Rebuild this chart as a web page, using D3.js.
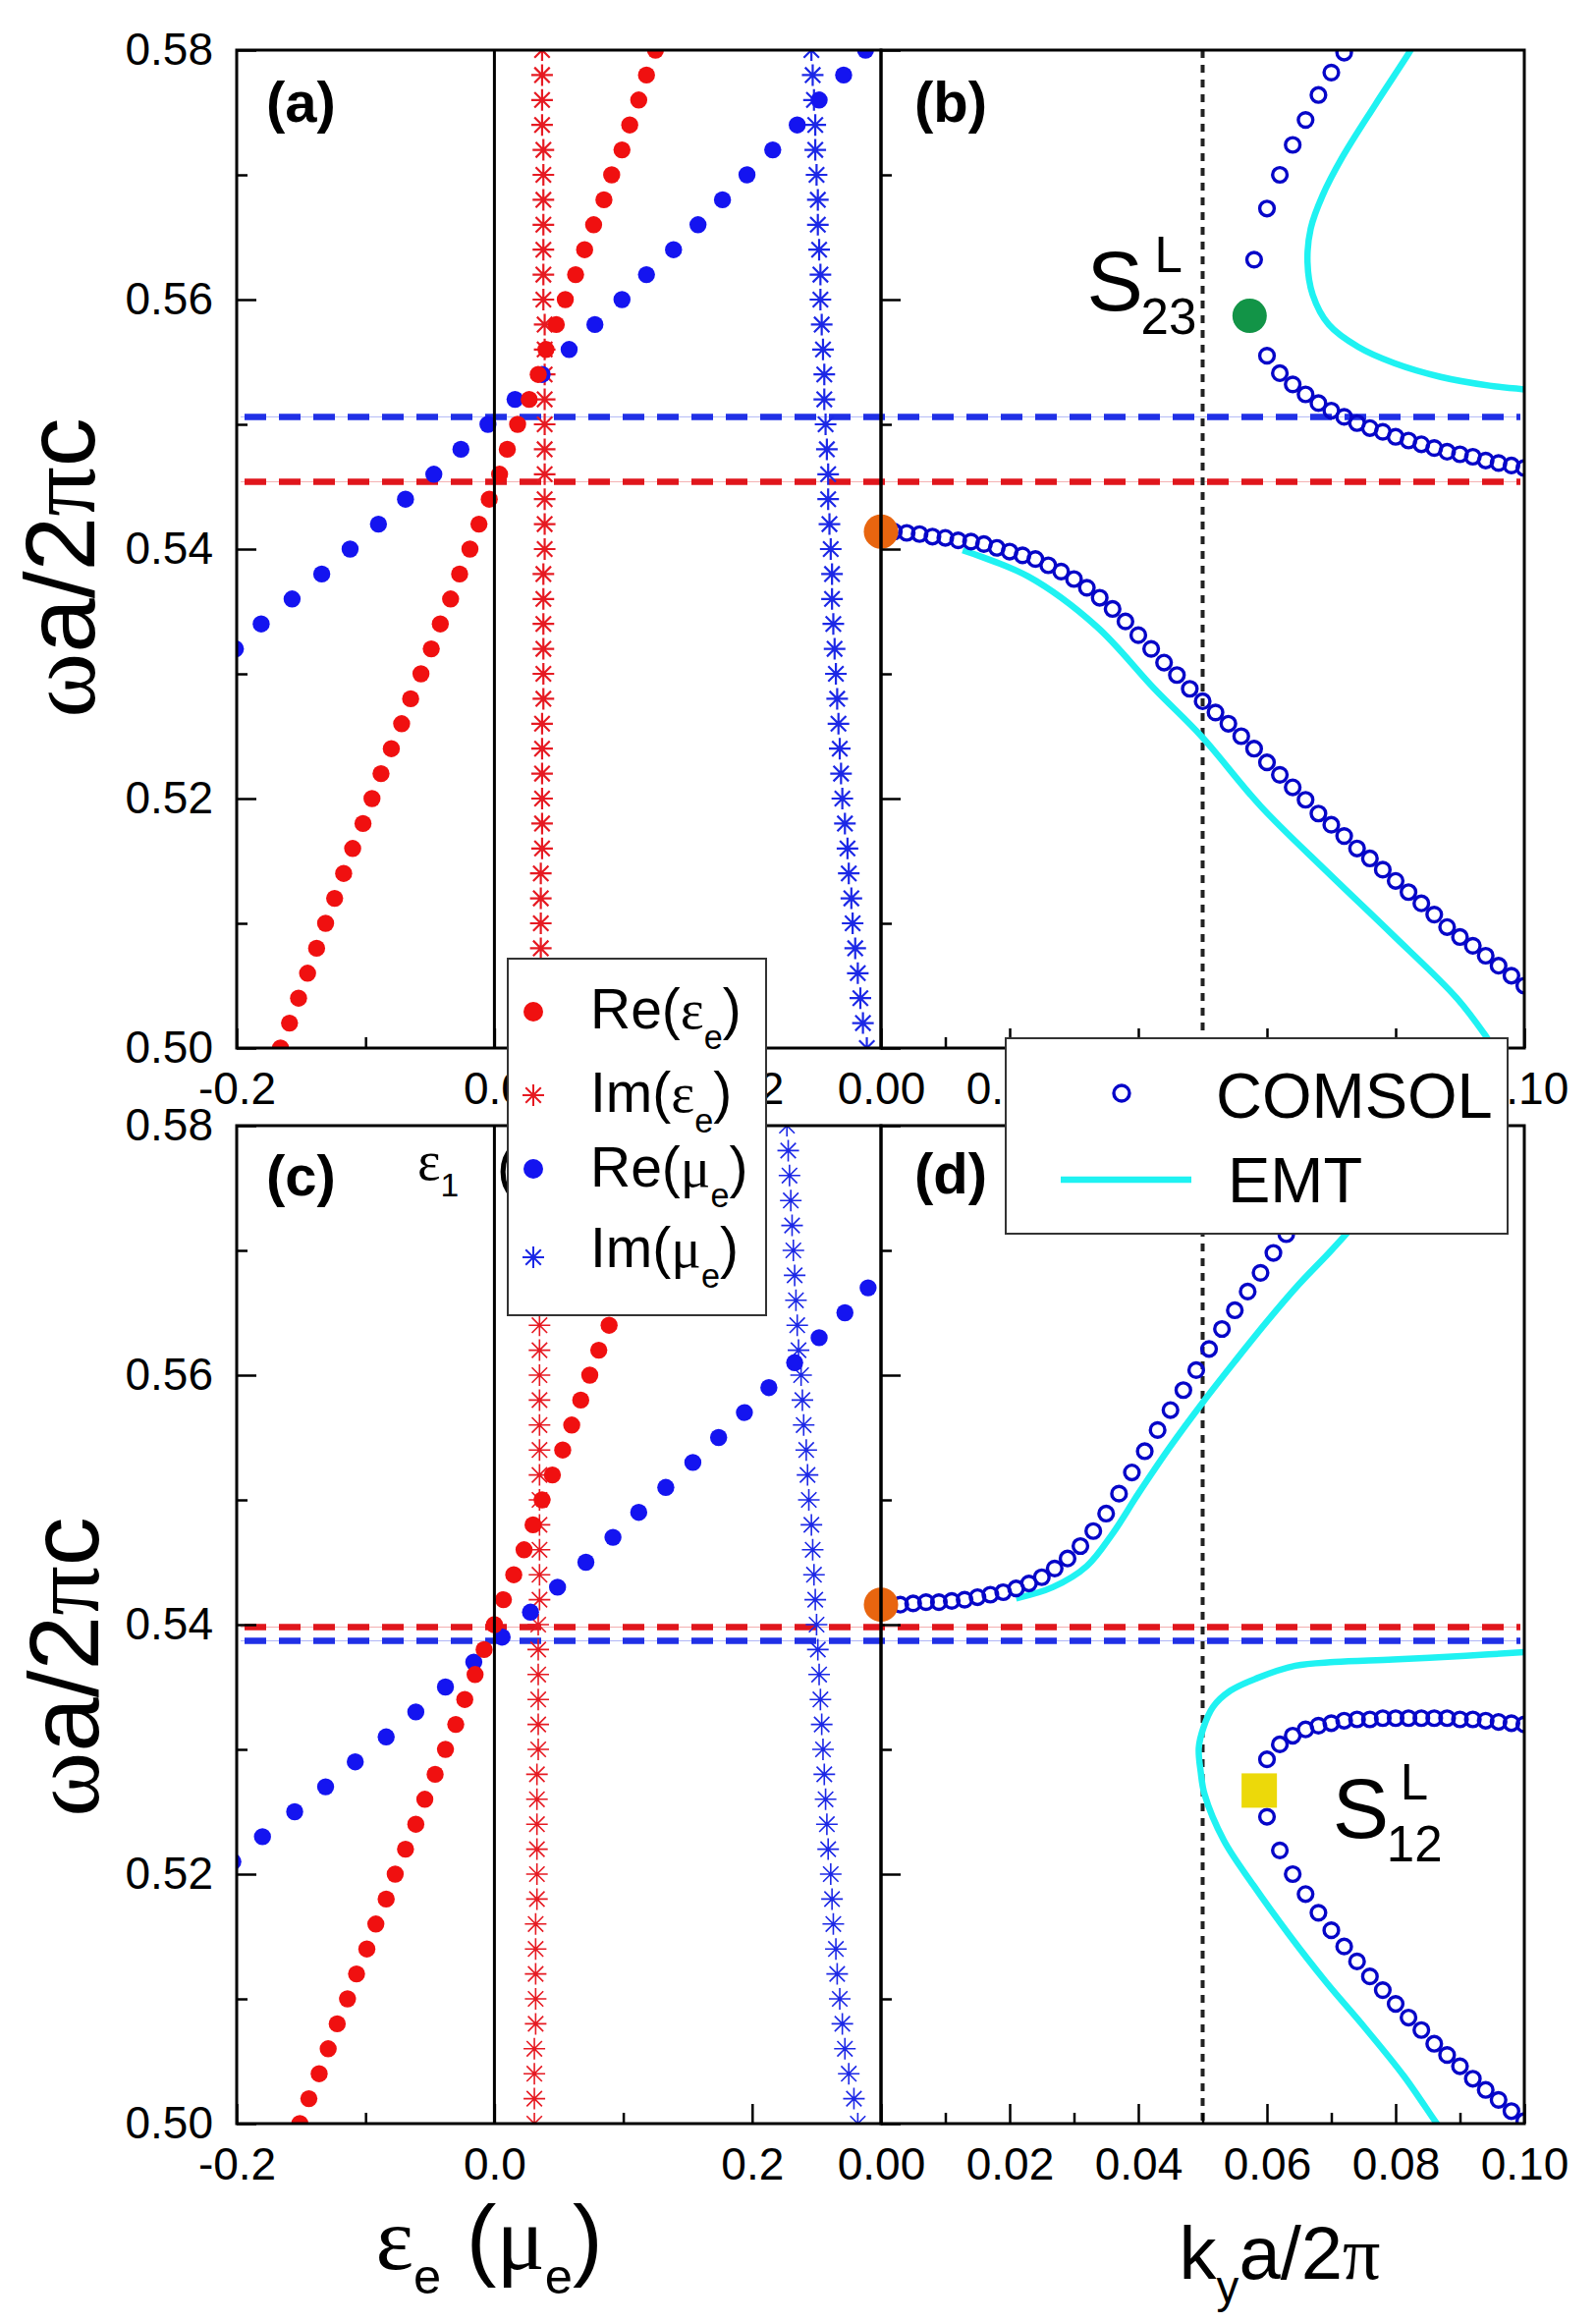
<!DOCTYPE html>
<html lang="en">
<head>
<meta charset="UTF-8" />
<title>Effective parameters and band structure</title>
<script src="https://cdnjs.cloudflare.com/ajax/libs/d3/7.8.5/d3.min.js"></script>
<style>
  body { margin: 0; background: #fff; }
  text { font-family: "Liberation Sans", Arial, sans-serif; fill: #000; }
  .greek { font-family: "Liberation Serif", "Times New Roman", serif; }
  .axis .domain { display: none; }
  .axis line { stroke: #000; stroke-width: 2.5; }
  .axis text { font-size: 46px; font-family: "Liberation Sans", Arial, sans-serif; }
</style>
</head>
<body>
<div id="chart"></div>
<script>
// ---- data ----
// frequency grid used by the effective-parameter curves (wa/2pic)
const omegaGrid = [0.500,0.502,0.504,0.506,0.508,0.510,0.512,0.514,0.516,0.518,0.520,0.522,0.524,0.526,0.528,0.530,0.532,0.534,0.536,0.538,0.540,0.542,0.544,0.546,0.548,0.550,0.552,0.554,0.556,0.558,0.560,0.562,0.564,0.566,0.568,0.570,0.572,0.574,0.576,0.578,0.580];

// panel (a)
const reEpsA = [-0.166,-0.159,-0.152,-0.145,-0.138,-0.131,-0.124,-0.117,-0.110,-0.102,-0.095,-0.088,-0.080,-0.072,-0.065,-0.057,-0.049,-0.042,-0.034,-0.027,-0.019,-0.012,-0.004,0.004,0.010,0.018,0.027,0.034,0.040,0.048,0.055,0.063,0.070,0.077,0.085,0.091,0.099,0.105,0.112,0.118,0.125];
const imEpsA = [0.035,0.035,0.035,0.036,0.036,0.036,0.036,0.036,0.037,0.037,0.037,0.037,0.037,0.037,0.038,0.038,0.038,0.038,0.038,0.038,0.039,0.039,0.039,0.039,0.039,0.039,0.039,0.039,0.039,0.039,0.038,0.038,0.038,0.038,0.038,0.038,0.038,0.037,0.037,0.037,0.037];
const imMuA = [0.289,0.286,0.284,0.282,0.280,0.278,0.277,0.275,0.274,0.272,0.270,0.269,0.268,0.267,0.266,0.265,0.264,0.263,0.262,0.262,0.261,0.260,0.259,0.259,0.258,0.257,0.256,0.256,0.255,0.254,0.253,0.253,0.252,0.251,0.251,0.250,0.249,0.249,0.248,0.247,0.246];
const omegaReMuA = [0.532,0.534,0.536,0.538,0.540,0.542,0.544,0.546,0.548,0.550,0.552,0.554,0.556,0.558,0.560,0.562,0.564,0.566,0.568,0.570,0.572,0.574,0.576,0.578,0.580];
const reMuA = [-0.201,-0.181,-0.157,-0.134,-0.112,-0.090,-0.069,-0.047,-0.026,-0.005,0.016,0.037,0.058,0.078,0.099,0.118,0.139,0.158,0.177,0.196,0.216,0.235,0.252,0.271,0.288];

// panel (c)
const reEpsC = [-0.151,-0.144,-0.136,-0.129,-0.122,-0.114,-0.107,-0.099,-0.092,-0.084,-0.077,-0.069,-0.061,-0.054,-0.046,-0.038,-0.030,-0.023,-0.015,-0.008,0.000,0.007,0.015,0.023,0.030,0.037,0.045,0.053,0.060,0.067,0.074,0.081,0.089,0.096,0.103,0.110,0.117,0.124,0.131,0.138,0.145];
const imEpsC = [0.031,0.031,0.031,0.031,0.032,0.032,0.032,0.032,0.032,0.033,0.033,0.033,0.033,0.033,0.033,0.034,0.034,0.034,0.034,0.034,0.034,0.035,0.035,0.035,0.035,0.035,0.035,0.035,0.035,0.035,0.035,0.035,0.035,0.035,0.035,0.035,0.035,0.035,0.035,0.035,0.035];
const imMuC = [0.282,0.279,0.275,0.272,0.270,0.268,0.266,0.265,0.263,0.262,0.261,0.259,0.258,0.257,0.256,0.255,0.254,0.253,0.252,0.251,0.250,0.249,0.248,0.247,0.246,0.244,0.243,0.242,0.240,0.239,0.238,0.236,0.235,0.234,0.233,0.232,0.231,0.230,0.229,0.228,0.227];
const omegaReMuC = [0.521,0.523,0.525,0.527,0.529,0.531,0.533,0.535,0.537,0.539,0.541,0.543,0.545,0.547,0.549,0.551,0.553,0.555,0.557,0.559,0.561,0.563,0.565,0.567];
const reMuC = [-0.203,-0.180,-0.155,-0.131,-0.108,-0.084,-0.061,-0.038,-0.016,0.006,0.028,0.049,0.071,0.092,0.112,0.133,0.154,0.174,0.194,0.213,0.233,0.252,0.272,0.290];

// panel (b): COMSOL bands (kya/2pi, wa/2pic)
const kLowB = [0.002,0.004,0.006,0.008,0.010,0.012,0.014,0.016,0.018,0.020,0.022,0.024,0.026,0.028,0.030,0.032,0.034,0.036,0.038,0.040,0.042,0.044,0.046,0.048,0.050,0.052,0.054,0.056,0.058,0.060,0.062,0.064,0.066,0.068,0.070,0.072,0.074,0.076,0.078,0.080,0.082,0.084,0.086,0.088,0.090,0.092,0.094,0.096,0.098,0.100];
const wLowB = [0.5414,0.5413,0.5412,0.5410,0.5409,0.5407,0.5406,0.5404,0.5401,0.5398,0.5395,0.5392,0.5387,0.5382,0.5376,0.5369,0.5361,0.5352,0.5342,0.5331,0.5320,0.5309,0.5299,0.5288,0.5278,0.5269,0.5260,0.5250,0.5240,0.5229,0.5219,0.5209,0.5199,0.5188,0.5179,0.5170,0.5160,0.5152,0.5143,0.5134,0.5125,0.5116,0.5107,0.5097,0.5089,0.5082,0.5074,0.5066,0.5058,0.5050];
const kUpB = [0.074,0.072,0.070,0.068,0.066,0.064,0.062,0.060,0.058,0.060,0.062,0.064,0.066,0.068,0.070,0.072,0.074,0.076,0.078,0.080,0.082,0.084,0.086,0.088,0.090,0.092,0.094,0.096,0.098,0.100];
const wUpB = [0.5812,0.5798,0.5782,0.5764,0.5744,0.5724,0.5700,0.5673,0.5632,0.5555,0.5541,0.5532,0.5524,0.5517,0.5511,0.5506,0.5501,0.5497,0.5494,0.5490,0.5487,0.5484,0.5481,0.5478,0.5476,0.5474,0.5471,0.5469,0.5467,0.5465];
// panel (b): EMT curves
const kEmtLowB = [0.0127,0.0229,0.0335,0.0425,0.0498,0.0590,0.0692,0.0793,0.0895,0.0941,0.0955];
const wEmtLowB = [0.5399,0.5378,0.5338,0.5288,0.5250,0.5194,0.5142,0.5092,0.5040,0.5009,0.4998];
const kEmtUpB = [0.0830,0.0821,0.0768,0.0717,0.0686,0.0668,0.0663,0.0671,0.0696,0.0742,0.0798,0.0870,0.0946,0.1000];
const wEmtUpB = [0.5806,0.5798,0.5756,0.5714,0.5683,0.5657,0.5630,0.5604,0.5580,0.5562,0.5549,0.5538,0.5531,0.5528];

// panel (d): COMSOL bands
const kUpD = [0.003,0.005,0.007,0.009,0.011,0.013,0.015,0.017,0.019,0.021,0.023,0.025,0.027,0.029,0.031,0.033,0.035,0.037,0.039,0.041,0.043,0.045,0.047,0.049,0.051,0.053,0.055,0.057,0.059,0.061,0.063,0.065,0.067,0.069,0.071,0.073,0.075];
const wUpD = [0.5416,0.5417,0.5418,0.5418,0.5419,0.5420,0.5422,0.5424,0.5426,0.5429,0.5433,0.5438,0.5445,0.5453,0.5463,0.5475,0.5489,0.5505,0.5522,0.5539,0.5556,0.5572,0.5588,0.5604,0.5621,0.5637,0.5652,0.5667,0.5682,0.5698,0.5713,0.5728,0.5743,0.5758,0.5773,0.5788,0.5803];
const kLoopD = [0.100,0.098,0.096,0.094,0.092,0.090,0.088,0.086,0.084,0.082,0.080,0.078,0.076,0.074,0.072,0.070,0.068,0.066,0.064,0.062,0.060,0.060,0.062,0.064,0.066,0.068,0.070,0.072,0.074,0.076,0.078,0.080,0.082,0.084,0.086,0.088,0.090,0.092,0.094,0.096,0.098,0.100];
const wLoopD = [0.5320,0.5321,0.5322,0.5323,0.5324,0.5324,0.5325,0.5325,0.5325,0.5325,0.5325,0.5325,0.5324,0.5324,0.5323,0.5321,0.5319,0.5316,0.5311,0.5304,0.5292,0.5246,0.5219,0.5200,0.5184,0.5169,0.5155,0.5142,0.5130,0.5118,0.5107,0.5096,0.5085,0.5075,0.5064,0.5055,0.5046,0.5036,0.5027,0.5019,0.5010,0.5002];
// panel (d): EMT curves
const kEmtUpD = [0.0210,0.0267,0.0320,0.0360,0.0400,0.0450,0.0500,0.0550,0.0600,0.0650,0.0700,0.0760,0.0820,0.0870];
const wEmtUpD = [0.5421,0.5430,0.5447,0.5473,0.5505,0.5543,0.5578,0.5611,0.5643,0.5673,0.5700,0.5735,0.5772,0.5805];
const kEmtLoopD = [0.1000,0.0909,0.0796,0.0705,0.0644,0.0584,0.0543,0.0516,0.0501,0.0494,0.0497,0.0503,0.0533,0.0579,0.0635,0.0691,0.0752,0.0813,0.0864,0.0870];
const wEmtLoopD = [0.5378,0.5375,0.5372,0.5370,0.5367,0.5357,0.5347,0.5334,0.5317,0.5301,0.5282,0.5264,0.5227,0.5191,0.5151,0.5114,0.5077,0.5038,0.5000,0.4996];

// highlighted states [k, w]
const gammaB = [0, 0.5414], s23Point = [0.0573, 0.5587];
const gammaD = [0, 0.5416], s12Point = [0.0588, 0.5267];

// horizontal reference frequencies (red: eps = 0, blue: mu = 0)
const refLinesTop = { red: 0.5454, blue: 0.5506 };
const refLinesBottom = { red: 0.5398, blue: 0.5387 };
const kDotted = 0.05;

// ticks
const yMajorTicks = [0.50, 0.52, 0.54, 0.56, 0.58];
const yMinorTicks = [0.51, 0.53, 0.55, 0.57];
const epsMajorTicks = [-0.2, 0.0, 0.2];
const epsMinorTicks = [-0.1, 0.1];
const kMajorTicks = [0.00, 0.02, 0.04, 0.06, 0.08, 0.10];
const kMinorTicks = [0.01, 0.03, 0.05, 0.07, 0.09];

// colours
const cRed = "#f01010", cBlue = "#1414f0", cRedStar = "#e61a22", cBlueStar = "#1c28e6";
const cCircle = "#0606c8", cCyan = "#1ff2f2";

// ---- layout ----
const width = 1625, height = 2365;
const left = 241, mid = 897, right = 1552;
const panelTop = [51, 1146], panelBot = [1067, 2162];

const svg = d3.select("#chart").append("svg")
  .attr("width", width).attr("height", height);
svg.append("rect").attr("width", width).attr("height", height).attr("fill", "#fff");

const xEps = d3.scaleLinear().domain([-0.2, 0.3]).range([left, mid]);
const xK = d3.scaleLinear().domain([0, 0.1]).range([mid, right]);
const yS = [0, 1].map(i => d3.scaleLinear().domain([0.5, 0.58]).range([panelBot[i], panelTop[i]]));

// clip paths for the four panels
const defs = svg.append("defs");
[["clipA", left, 0], ["clipB", mid, 0], ["clipC", left, 1], ["clipD", mid, 1]].forEach(([id, x0, r]) => {
  defs.append("clipPath").attr("id", id).append("rect")
    .attr("x", x0).attr("y", panelTop[r])
    .attr("width", x0 === left ? mid - left : right - mid)
    .attr("height", panelBot[r] - panelTop[r]);
});

const starPath = s => {
  const d = s * 0.7071;
  return `M${-s},0H${s}M0,${-s}V${s}M${-d},${-d}L${d},${d}M${-d},${d}L${d},${-d}`;
};

function rich(text, parts, size, subRatio = 0.6, subShift = 0.3) {
  let shift = 0;
  parts.forEach(p => {
    const ts = text.append("tspan").text(p.t);
    const target = p.sub ? size * subShift : 0;
    if (target !== shift) { ts.attr("dy", target - shift); shift = target; }
    if (p.sub) ts.attr("font-size", size * subRatio);
    if (p.g) ts.attr("class", "greek");
  });
  return text;
}

function drawDots(g, xs, ys, xsc, ysc, color, r) {
  g.selectAll(null).data(d3.zip(xs, ys)).enter().append("circle")
    .attr("cx", d => xsc(d[0])).attr("cy", d => ysc(d[1]))
    .attr("r", r).attr("fill", color);
}
function drawStars(g, xs, ys, xsc, ysc, color, s, sw) {
  g.selectAll(null).data(d3.zip(xs, ys)).enter().append("path")
    .attr("transform", d => `translate(${xsc(d[0])},${ysc(d[1])})`)
    .attr("d", starPath(s)).attr("fill", "none")
    .attr("stroke", color).attr("stroke-width", sw);
}
function drawOpen(g, xs, ys, ysc) {
  g.selectAll(null).data(d3.zip(xs, ys)).enter().append("circle")
    .attr("cx", d => xK(d[0])).attr("cy", d => ysc(d[1]))
    .attr("r", 7.4).attr("fill", "none")
    .attr("stroke", cCircle).attr("stroke-width", 3.4);
}
function drawEmt(g, xs, ys, ysc) {
  const line = d3.line().x(d => xK(d[0])).y(d => ysc(d[1])).curve(d3.curveCatmullRom.alpha(0.5));
  g.append("path").datum(d3.zip(xs, ys)).attr("d", line)
    .attr("fill", "none").attr("stroke", cCyan).attr("stroke-width", 6.5);
}
function refLine(y, color) {
  svg.append("line").attr("x1", left + 4).attr("x2", right - 4).attr("y1", y).attr("y2", y)
    .attr("stroke", color).attr("stroke-width", 1).attr("opacity", 0.35);
  svg.append("line").attr("x1", left + 8).attr("x2", right - 4).attr("y1", y).attr("y2", y)
    .attr("stroke", color).attr("stroke-width", 6.5).attr("stroke-dasharray", "22,13");
}

// ---- reference lines (under the data) ----
refLine(yS[0](refLinesTop.blue), "#2030e6");
refLine(yS[0](refLinesTop.red), "#e0161c");
refLine(yS[1](refLinesBottom.red), "#e0161c");
refLine(yS[1](refLinesBottom.blue), "#2030e6");

// ---- panel (a) ----
const gA = svg.append("g").attr("clip-path", "url(#clipA)");
drawStars(gA, imEpsA, omegaGrid, xEps, yS[0], cRedStar, 11, 2.2);
drawStars(gA, imMuA, omegaGrid, xEps, yS[0], cBlueStar, 11, 2.2);
drawDots(gA, reMuA, omegaReMuA, xEps, yS[0], cBlue, 8.7);
drawDots(gA, reEpsA, omegaGrid, xEps, yS[0], cRed, 8.7);

// ---- panel (c) ----
const gC = svg.append("g").attr("clip-path", "url(#clipC)");
drawStars(gC, imEpsC, omegaGrid, xEps, yS[1], cRedStar, 11, 1.6);
drawStars(gC, imMuC, omegaGrid, xEps, yS[1], cBlueStar, 11, 1.6);
drawDots(gC, reMuC, omegaReMuC, xEps, yS[1], cBlue, 8.7);
drawDots(gC, reEpsC, omegaGrid, xEps, yS[1], cRed, 8.7);

// zero lines
[0, 1].forEach(i => {
  svg.append("line").attr("x1", xEps(0)).attr("x2", xEps(0))
    .attr("y1", panelTop[i]).attr("y2", panelBot[i])
    .attr("stroke", "#000").attr("stroke-width", 3);
});

// dotted k = 0.05 lines
[0, 1].forEach(i => {
  svg.append("line").attr("x1", xK(kDotted)).attr("x2", xK(kDotted))
    .attr("y1", panelTop[i]).attr("y2", panelBot[i])
    .attr("stroke", "#222").attr("stroke-width", 4).attr("stroke-dasharray", "8,7");
});

// ---- panel (b) ----
const gB = svg.append("g").attr("clip-path", "url(#clipB)");
drawEmt(gB, kEmtLowB, wEmtLowB, yS[0]);
drawEmt(gB, kEmtUpB, wEmtUpB, yS[0]);
drawOpen(gB, kLowB, wLowB, yS[0]);
drawOpen(gB, kUpB, wUpB, yS[0]);

// ---- panel (d) ----
const gD = svg.append("g").attr("clip-path", "url(#clipD)");
drawEmt(gD, kEmtUpD, wEmtUpD, yS[1]);
drawEmt(gD, kEmtLoopD, wEmtLoopD, yS[1]);
drawOpen(gD, kUpD, wUpD, yS[1]);
drawOpen(gD, kLoopD, wLoopD, yS[1]);

// highlighted states
svg.append("circle").attr("cx", xK(gammaB[0])).attr("cy", yS[0](gammaB[1])).attr("r", 17.5).attr("fill", "#e8650f");
svg.append("circle").attr("cx", xK(s23Point[0])).attr("cy", yS[0](s23Point[1])).attr("r", 17.5).attr("fill", "#129447");
svg.append("circle").attr("cx", xK(gammaD[0])).attr("cy", yS[1](gammaD[1])).attr("r", 17.5).attr("fill", "#e8650f");
svg.append("rect").attr("x", xK(s12Point[0]) - 18).attr("y", yS[1](s12Point[1]) - 17.5)
  .attr("width", 36).attr("height", 35).attr("fill", "#ecd90a");

// ---- frames ----
[0, 1].forEach(i => {
  [[left, mid], [mid, right]].forEach(([x0, x1]) => {
    svg.append("rect").attr("x", x0).attr("y", panelTop[i])
      .attr("width", x1 - x0).attr("height", panelBot[i] - panelTop[i])
      .attr("fill", "none").attr("stroke", "#000").attr("stroke-width", 3);
  });
});

// ---- axes ----
[0, 1].forEach(i => {
  const y = yS[i];
  // left y axis with labels
  svg.append("g").attr("class", "axis").attr("transform", `translate(${left},0)`)
    .call(d3.axisLeft(y).tickValues(yMajorTicks).tickSize(-20).tickPadding(24).tickFormat(d => d.toFixed(2)));
  svg.append("g").attr("class", "axis").attr("transform", `translate(${left},0)`)
    .call(d3.axisLeft(y).tickValues(yMinorTicks).tickSize(-11).tickFormat(""));
  // shared axis into right panel
  svg.append("g").attr("class", "axis").attr("transform", `translate(${mid},0)`)
    .call(d3.axisLeft(y).tickValues(yMajorTicks).tickSize(-20).tickFormat(""));
  svg.append("g").attr("class", "axis").attr("transform", `translate(${mid},0)`)
    .call(d3.axisLeft(y).tickValues(yMinorTicks).tickSize(-11).tickFormat(""));
  // bottom axes
  svg.append("g").attr("class", "axis").attr("transform", `translate(0,${panelBot[i]})`)
    .call(d3.axisBottom(xEps).tickValues(epsMajorTicks).tickSize(-20).tickPadding(24).tickFormat(d => d.toFixed(1)));
  svg.append("g").attr("class", "axis").attr("transform", `translate(0,${panelBot[i]})`)
    .call(d3.axisBottom(xEps).tickValues(epsMinorTicks).tickSize(-11).tickFormat(""));
  svg.append("g").attr("class", "axis").attr("transform", `translate(0,${panelBot[i]})`)
    .call(d3.axisBottom(xK).tickValues(kMajorTicks).tickSize(-20).tickPadding(24).tickFormat(d => d.toFixed(2)));
  svg.append("g").attr("class", "axis").attr("transform", `translate(0,${panelBot[i]})`)
    .call(d3.axisBottom(xK).tickValues(kMinorTicks).tickSize(-11).tickFormat(""));
});

// ---- axis titles ----
[[96, 578], [100, 1697]].forEach(([x, y]) => {
  rich(svg.append("text").attr("transform", `translate(${x},${y}) rotate(-90)`)
    .attr("text-anchor", "middle").attr("font-size", 100),
    [{ t: "ω", g: true }, { t: "a/2" }, { t: "π", g: true }, { t: "c" }], 100);
});
rich(svg.append("text").attr("x", 498).attr("y", 2310).attr("text-anchor", "middle").attr("font-size", 92),
  [{ t: "ε", g: true }, { t: "e", sub: true }, { t: " (" }, { t: "μ", g: true }, { t: "e", sub: true }, { t: ")" }], 92, 0.55, 0.27);
rich(svg.append("text").attr("x", 1303).attr("y", 2320).attr("text-anchor", "middle").attr("font-size", 76),
  [{ t: "k" }, { t: "y", sub: true }, { t: "a/2" }, { t: "π", g: true }], 76, 0.6, 0.32);

// ---- panel labels ----
[["(a)", left + 30, panelTop[0] + 73], ["(b)", mid + 34, panelTop[0] + 73],
 ["(c)", left + 30, panelTop[1] + 71], ["(d)", mid + 34, panelTop[1] + 69]].forEach(([t, x, y]) => {
  svg.append("text").attr("x", x).attr("y", y).attr("font-size", 58).attr("font-weight", "bold").text(t);
});

// epsilon_1 note in (c), partly hidden by the legend
rich(svg.append("text").attr("x", 425).attr("y", panelTop[1] + 55).attr("font-size", 56),
  [{ t: "ε", g: true }, { t: "1", sub: true }], 56, 0.6, 0.3);
rich(svg.append("text").attr("x", 506).attr("y", panelTop[1] + 62).attr("font-size", 58),
  [{ t: "(" }, { t: "μ", g: true }, { t: "1", sub: true }, { t: ")" }], 58);

// ---- state labels ----
function stateLabel(k, w, ysc, sub) {
  const x = xK(k), y = ysc(w);
  svg.append("text").attr("x", x).attr("y", y).attr("font-size", 86).text("S");
  svg.append("text").attr("x", x + 55).attr("y", y + 24).attr("font-size", 51).text(sub);
  svg.append("text").attr("x", x + 69).attr("y", y - 39).attr("font-size", 51).text("L");
}
stateLabel(0.0320, 0.5591, yS[0], "23");
stateLabel(0.0702, 0.5229, yS[1], "12");

// ---- legend 1 (effective parameters) ----
const leg1 = svg.append("g");
leg1.append("rect").attr("x", 517).attr("y", 976).attr("width", 263).attr("height", 363)
  .attr("fill", "#fff").attr("stroke", "#333").attr("stroke-width", 2);
const leg1Items = [
  { type: "dot", color: cRed, sym: 1030, base: 1047, parts: [{ t: "Re(" }, { t: "ε", g: true }, { t: "e", sub: true }, { t: ")" }] },
  { type: "star", color: cRedStar, sym: 1115, base: 1132, parts: [{ t: "Im(" }, { t: "ε", g: true }, { t: "e", sub: true }, { t: ")" }] },
  { type: "dot", color: cBlue, sym: 1190, base: 1208, parts: [{ t: "Re(" }, { t: "μ", g: true }, { t: "e", sub: true }, { t: ")" }] },
  { type: "star", color: cBlueStar, sym: 1280, base: 1290, parts: [{ t: "Im(" }, { t: "μ", g: true }, { t: "e", sub: true }, { t: ")" }] }
];
leg1Items.forEach(d => {
  if (d.type === "dot") {
    leg1.append("circle").attr("cx", 543).attr("cy", d.sym).attr("r", 10).attr("fill", d.color);
  } else {
    leg1.append("path").attr("transform", `translate(543,${d.sym})`).attr("d", starPath(11))
      .attr("fill", "none").attr("stroke", d.color).attr("stroke-width", 2);
  }
  rich(leg1.append("text").attr("x", 601).attr("y", d.base).attr("font-size", 57), d.parts, 57, 0.6, 0.36);
});

// ---- legend 2 (COMSOL / EMT) ----
const leg2 = svg.append("g");
leg2.append("rect").attr("x", 1024).attr("y", 1057).attr("width", 511).attr("height", 199)
  .attr("fill", "#fff").attr("stroke", "#333").attr("stroke-width", 2);
leg2.append("circle").attr("cx", 1142).attr("cy", 1113).attr("r", 8)
  .attr("fill", "none").attr("stroke", cCircle).attr("stroke-width", 3.4);
leg2.append("text").attr("x", 1238).attr("y", 1138).attr("font-size", 65).text("COMSOL");
leg2.append("line").attr("x1", 1080).attr("x2", 1213).attr("y1", 1201).attr("y2", 1201)
  .attr("stroke", cCyan).attr("stroke-width", 6.5);
leg2.append("text").attr("x", 1250).attr("y", 1224).attr("font-size", 65).text("EMT");
</script>
</body>
</html>
